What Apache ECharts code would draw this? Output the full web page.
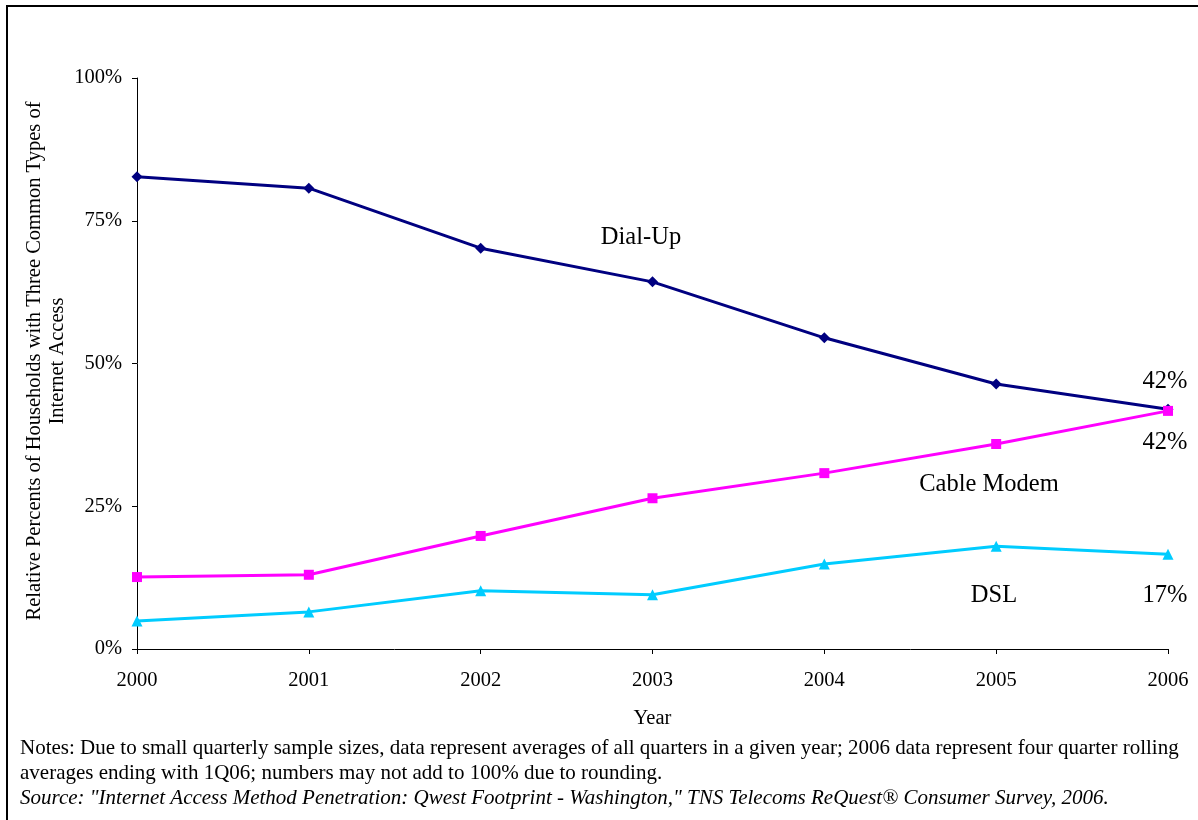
<!DOCTYPE html>
<html>
<head>
<meta charset="utf-8">
<title>Internet Access Method Penetration</title>
<script src="https://cdn.jsdelivr.net/npm/echarts@6/dist/echarts.min.js"></script>
<style>
  html, body { margin: 0; padding: 0; background: #fff; }
  #chart { width: 1198px; height: 820px; }
</style>
</head>
<body>
<div id="chart"></div>
<script>
// Survey years
const years = ['2000', '2001', '2002', '2003', '2004', '2005', '2006'];

// Share of households (%) by access method
const dialUp = [82.7, 80.7, 70.2, 64.3, 54.5, 46.4, 42.0];
const cableModem = [12.6, 13.0, 19.8, 26.4, 30.8, 35.9, 41.7];
const dsl = [4.9, 6.5, 10.2, 9.5, 14.9, 18.0, 16.6];

// Y axis ticks
const yTicks = [0, 25, 50, 75, 100];

const serif = '"Liberation Serif", "Times New Roman", serif';
const axisFont = 20.5;
const noteFont = 21;
const tagFont = 24.5;

const chart = echarts.init(document.getElementById('chart'), null, { renderer: 'canvas' });

// Show a value label on the final year only
function lastLabel(arr, extra) {
  return Object.assign({
    show: true,
    fontFamily: serif,
    fontSize: tagFont,
    color: '#000',
    formatter: p => (p.dataIndex === arr.length - 1 ? Math.round(p.value) + '%' : '')
  }, extra);
}

const option = {
  animation: false,
  backgroundColor: '#fff',
  grid: { left: 137, right: 30, top: 78, bottom: 171, containLabel: false },
  xAxis: {
    type: 'category',
    data: years,
    boundaryGap: false,
    name: 'Year',
    nameLocation: 'middle',
    nameGap: 59,
    nameTextStyle: { fontFamily: serif, fontSize: axisFont, color: '#000' },
    axisLine: { lineStyle: { color: '#000', width: 1 } },
    axisTick: { show: true, length: 5, inside: false, alignWithLabel: true, lineStyle: { color: '#000' } },
    axisLabel: { fontFamily: serif, fontSize: axisFont, color: '#000', margin: 21 },
    splitLine: { show: false }
  },
  yAxis: {
    type: 'value',
    min: yTicks[0],
    max: yTicks[yTicks.length - 1],
    interval: 25,
    axisLine: { show: true, lineStyle: { color: '#000', width: 1 } },
    axisTick: { show: true, length: 5, lineStyle: { color: '#000' } },
    axisLabel: { fontFamily: serif, fontSize: axisFont, color: '#000', margin: 15, formatter: v => v + '%' },
    splitLine: { show: false }
  },
  series: [
    {
      name: 'Dial-Up',
      type: 'line',
      data: dialUp,
      color: '#000080',
      lineStyle: { width: 3, color: '#000080' },
      symbol: 'diamond',
      symbolSize: 11,
      itemStyle: { color: '#000080' },
      label: lastLabel(dialUp, { position: 'top', distance: 10, offset: [-3, 0] })
    },
    {
      name: 'Cable Modem',
      type: 'line',
      data: cableModem,
      color: '#FF00FF',
      lineStyle: { width: 3, color: '#FF00FF' },
      symbol: 'rect',
      symbolSize: 10,
      itemStyle: { color: '#FF00FF' },
      label: lastLabel(cableModem, { position: 'bottom', distance: 14, offset: [-3, 0] })
    },
    {
      name: 'DSL',
      type: 'line',
      data: dsl,
      color: '#00CCFF',
      lineStyle: { width: 3, color: '#00CCFF' },
      symbol: 'triangle',
      symbolSize: 11,
      itemStyle: { color: '#00CCFF' },
      label: lastLabel(dsl, { position: 'bottom', distance: 23, offset: [-3, 0] })
    }
  ],
  graphic: [
    // frame lines
    { type: 'rect', shape: { x: 6, y: 5, width: 1192, height: 2 }, style: { fill: '#000' } },
    { type: 'rect', shape: { x: 6, y: 5, width: 2, height: 815 }, style: { fill: '#000' } },
    // y axis title (two lines, rotated)
    {
      type: 'text', x: 35, y: 361, rotation: Math.PI / 2, originX: 0, originY: 0,
      style: { text: 'Relative Percents of Households with Three Common Types of', font: axisFont + 'px ' + serif, fill: '#000', align: 'center', verticalAlign: 'middle' }
    },
    {
      type: 'text', x: 58, y: 361, rotation: Math.PI / 2, originX: 0, originY: 0,
      style: { text: 'Internet Access', font: axisFont + 'px ' + serif, fill: '#000', align: 'center', verticalAlign: 'middle' }
    },
    // series names
    { type: 'text', x: 641, y: 238, style: { text: 'Dial-Up', font: tagFont + 'px ' + serif, fill: '#000', align: 'center', verticalAlign: 'middle' } },
    { type: 'text', x: 989, y: 485, style: { text: 'Cable Modem', font: tagFont + 'px ' + serif, fill: '#000', align: 'center', verticalAlign: 'middle' } },
    { type: 'text', x: 994, y: 596, style: { text: 'DSL', font: tagFont + 'px ' + serif, fill: '#000', align: 'center', verticalAlign: 'middle' } },
    // notes
    { type: 'text', x: 20, y: 748, style: { text: 'Notes: Due to small quarterly sample sizes, data represent averages of all quarters in a given year; 2006 data represent four quarter rolling', font: noteFont + 'px ' + serif, fill: '#000', align: 'left', verticalAlign: 'middle' } },
    { type: 'text', x: 20, y: 773, style: { text: 'averages ending with 1Q06; numbers may not add to 100% due to rounding.', font: noteFont + 'px ' + serif, fill: '#000', align: 'left', verticalAlign: 'middle' } },
    { type: 'text', x: 20, y: 798, style: { text: 'Source: "Internet Access Method Penetration: Qwest Footprint - Washington," TNS Telecoms ReQuest\u00AE Consumer Survey, 2006.', font: 'italic ' + noteFont + 'px ' + serif, fill: '#000', align: 'left', verticalAlign: 'middle' } }
  ]
};

chart.setOption(option);
</script>
</body>
</html>
